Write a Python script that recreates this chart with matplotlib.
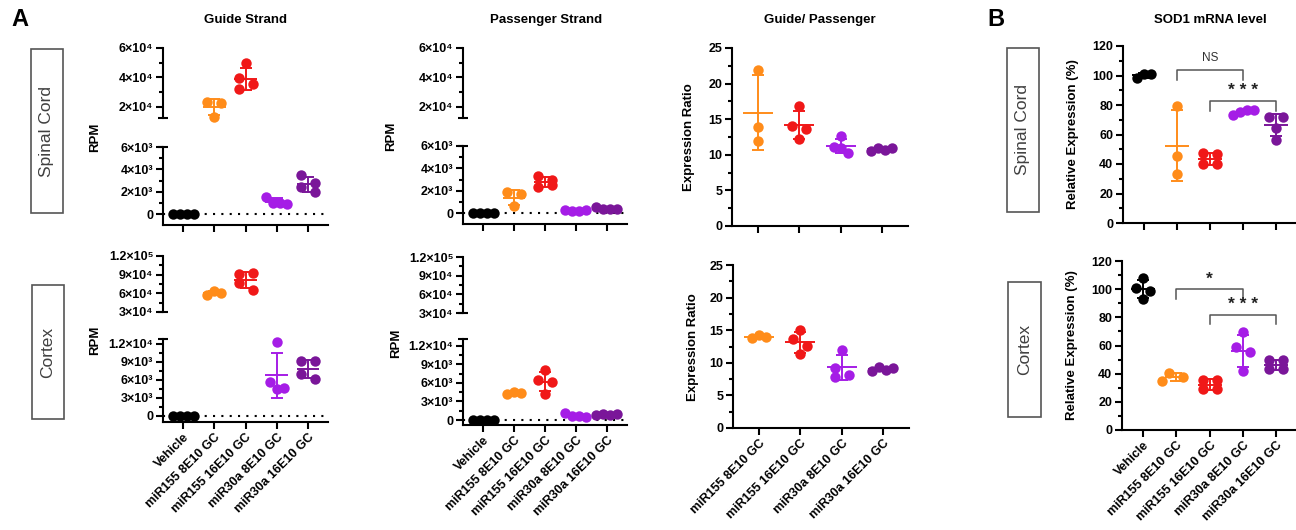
import numpy as np
import matplotlib
matplotlib.use('Agg')
import matplotlib.pyplot as plt
from matplotlib.patches import Rectangle

plt.rcParams['font.family'] = ['Liberation Sans', 'DejaVu Sans']

W, H = 1296, 530

groups = ['Vehicle', 'miR155 8E10 GC', 'miR155 16E10 GC', 'miR30a 8E10 GC', 'miR30a 16E10 GC']
colors = ['#000000', '#FF8C1A', '#F01818', '#A51DE6', '#7A1699']

# RPM values (guide / passenger strand), one list per group
guide_spinal = [[0, 0, 0, 0], [23400, 22700, 13500], [49500, 39500, 35500, 32000],
                [1550, 1050, 1000, 880], [3500, 2800, 2450, 1950]]
guide_cortex = [[0, 0, 0, 0], [58000, 64000, 61000], [91000, 93000, 76000, 66000],
                [12300, 5700, 4500, 4600], [9100, 9100, 7000, 6100]]
passenger_spinal = [[0, 0, 0, 0], [1900, 1700, 620], [3300, 3000, 2350, 2550],
                    [300, 250, 200, 280], [550, 400, 350, 420]]
passenger_cortex = [[0, 0, 0, 0], [4150, 4550, 4350], [8100, 6500, 6100, 4250],
                    [1100, 700, 600, 550], [800, 1000, 750, 900]]

# guide / passenger expression ratio (no vehicle)
ratio_spinal = [[21.9, 13.9, 12.0], [16.8, 14.1, 13.6, 12.2], [12.6, 11.1, 10.9, 10.2], [10.6, 11.0, 10.7, 11.0]]
ratio_cortex = [[13.8, 14.3, 14.0], [15.0, 13.6, 12.6, 11.3], [12.0, 9.2, 8.2, 7.8], [8.7, 9.3, 8.9, 9.2]]

# SOD1 mRNA relative expression (%)
sod1_spinal = [[98.2, 101.3, 101.0], [79, 45.5, 33], [47.5, 46.8, 40.3, 40.0],
               [73.5, 75.5, 76.5, 76.5], [72, 72, 64.5, 56.5]]
sod1_cortex = [[108, 101, 99, 93], [40.5, 37.5, 34.5], [35.8, 35.5, 29, 28.8],
               [69.5, 58.8, 55.5, 41.9], [49.5, 49.5, 43, 43]]

# comparisons: (group a, group b, bracket height, drop, label)
sod1_stats_spinal = [(1, 3, 104, 7, 'NS'), (2, 4, 83, 7, '* * *')]
sod1_stats_cortex = [(1, 3, 100, 7, '*'), (2, 4, 81.5, 6, '* * *')]

fig = plt.figure(figsize=(W / 100, H / 100), dpi=100)


def add_axes(l, t, r, b):
    return fig.add_axes([l / W, 1 - b / H, (r - l) / W, (b - t) / H])


def style(ax, xaxis=True):
    for s in ['top', 'right']:
        ax.spines[s].set_visible(False)
    ax.spines['left'].set_linewidth(1.5)
    ax.spines['bottom'].set_linewidth(1.5)
    ax.tick_params(axis='both', which='major', width=1.5, length=5, labelsize=9, pad=2)
    ax.tick_params(axis='y', which='minor', width=1.5, length=3)
    if not xaxis:
        ax.spines['bottom'].set_visible(False)
        ax.tick_params(axis='x', bottom=False, labelbottom=False)


def yticks(ax, major, labels, minor):
    ax.set_yticks(major, labels, fontweight='bold')
    ax.set_yticks(minor, minor=True)


def xticks(ax, n, labels=None):
    if labels is None:
        ax.set_xticks(range(n), [''] * n)
    else:
        ax.set_xticks(range(n), labels, rotation=45, ha='right', va='top',
                      rotation_mode='anchor', fontweight='bold', fontsize=9)


def cap(ax, where):
    ax.plot([-0.032, 0.032], [where, where], transform=ax.transAxes, color='k',
            lw=1.5, clip_on=False, solid_capstyle='butt')


def owner(axs, v):
    if len(axs) == 2 and v >= axs[0].get_ylim()[0]:
        return axs[0]
    return axs[-1]


def swarm(axs, x, vals, row_gap=8, dmin=9, step=7):
    # rows of nearly equal values are spread side by side, lone points dodge overlaps
    ypx = np.array([owner(axs, v).transData.transform((x, v))[1] for v in vals])
    a = axs[-1]
    ppu = a.transData.transform((1, 0))[0] - a.transData.transform((0, 0))[0]
    order = list(np.argsort(-ypx, kind='stable'))
    off = np.zeros(len(vals))
    placed = []
    i = 0
    while i < len(order):
        row = [order[i]]
        j = i + 1
        while j < len(order) and ypx[order[i]] - ypx[order[j]] < row_gap:
            row.append(order[j])
            j += 1
        row.sort()
        n = len(row)
        if n == 1:
            k = row[0]
            for c in [0, -step, step, -2 * step, 2 * step]:
                if all(np.hypot(c - px, ypx[k] - py) >= dmin for px, py in placed):
                    off[k] = c
                    break
            placed.append((off[k], ypx[k]))
        else:
            sp = 14 if n == 2 else step
            for m, k in enumerate(row):
                off[k] = (m - (n - 1) / 2) * sp
                placed.append((off[k], ypx[k]))
        i = j
    return off / ppu


def draw(axs, data, cols):
    for x, (vals, c) in enumerate(zip(data, cols)):
        vals = np.asarray(vals, float)
        m, sd = vals.mean(), vals.std(ddof=1)
        for ax in axs:
            ax.hlines(m, x - 0.36, x + 0.36, color=c, lw=1.4, zorder=4)
            ax.errorbar(x, m, yerr=sd, fmt='none', ecolor=c, elinewidth=1.4,
                        capsize=4.5, capthick=1.4, zorder=4)
        dx = swarm(axs, x, vals)
        for v, d in zip(vals, dx):
            owner(axs, v).plot(x + d, v, 'o', ms=7.5, color=c, mec='none',
                               clip_on=False, zorder=3)


def rpm_panel(box_up, box_lo, ylim_up, ylim_lo, data, spec_up, spec_lo, labels):
    up = add_axes(*box_up)
    lo = add_axes(*box_lo)
    for ax in (up, lo):
        ax.set_xlim(-0.65, 4.65)
    up.set_ylim(*ylim_up)
    lo.set_ylim(*ylim_lo)
    style(up, xaxis=False)
    style(lo)
    yticks(up, *spec_up)
    yticks(lo, *spec_lo)
    xticks(lo, 5, labels)
    cap(up, 0)
    cap(lo, 1)
    lo.axhline(0, color='k', lw=1.5, ls=(0, (1, 3)), zorder=1)
    draw([up, lo], data, colors)


spin_up = ([2e4, 4e4, 6e4], ['2×10⁴', '4×10⁴', '6×10⁴'], [3e4, 5e4])
spin_lo = ([0, 2e3, 4e3, 6e3], ['0', '2×10³', '4×10³', '6×10³'], [1e3, 3e3, 5e3])
cort_up = ([3e4, 6e4, 9e4, 1.2e5], ['3×10⁴', '6×10⁴', '9×10⁴', '1.2×10⁵'], [4.5e4, 7.5e4, 1.05e5])
cort_lo = ([0, 3e3, 6e3, 9e3, 1.2e4], ['0', '3×10³', '6×10³', '9×10³', '1.2×10⁴'],
           [1.5e3, 4.5e3, 7.5e3, 1.05e4])

# Guide strand
rpm_panel((163, 48, 328, 118), (163, 147, 328, 225), (12500, 60000), (-950, 6000),
          guide_spinal, spin_up, spin_lo, None)
rpm_panel((163, 256, 328, 312), (163, 339, 328, 422), (30000, 120000), (-1000, 12830),
          guide_cortex, cort_up, cort_lo, groups)
# Passenger strand
rpm_panel((463, 48, 627, 118), (463, 146, 627, 224), (12500, 60000), (-950, 6000),
          passenger_spinal, spin_up, spin_lo, None)
rpm_panel((463, 257, 627, 313), (463, 339, 627, 425), (30000, 120000), (-810, 13130),
          passenger_cortex, cort_up, cort_lo, groups)

# Guide / passenger ratio
for box, data, lab in [((732, 48, 908, 226), ratio_spinal, None),
                       ((733, 265, 909, 428), ratio_cortex, groups[1:])]:
    ax = add_axes(*box)
    ax.set_xlim(-0.63, 3.63)
    ax.set_ylim(0, 25)
    style(ax)
    yticks(ax, np.arange(0, 26, 5), [str(v) for v in range(0, 26, 5)], np.arange(2.5, 25, 5))
    xticks(ax, 4, lab)
    draw([ax], data, colors[1:])

# SOD1
for box, data, stats, lab in [((1123, 46, 1296, 223), sod1_spinal, sod1_stats_spinal, None),
                              ((1122, 261, 1296, 430), sod1_cortex, sod1_stats_cortex, groups)]:
    ax = add_axes(*box)
    ax.set_xlim(-0.64, 4.6)
    ax.set_ylim(0, 120)
    style(ax)
    yticks(ax, np.arange(0, 121, 20), [str(v) for v in range(0, 121, 20)], np.arange(10, 120, 20))
    xticks(ax, 5, lab)
    draw([ax], data, colors)
    for a, b, y, d, txt in stats:
        ax.plot([a, a, b, b], [y - d, y, y, y - d], color='#555555', lw=1.1, clip_on=False)
        if txt == 'NS':
            ax.text((a + b) / 2, y + 3.5, txt, ha='center', va='bottom', fontsize=8.5, color='#333333')
        else:
            ax.text((a + b) / 2, y + 2, txt, ha='center', va='bottom', fontsize=12.5,
                    fontweight='bold', color='#222222')

# y labels
for x, y, s in [(95, 137, 'RPM'), (95, 340, 'RPM'), (391, 136, 'RPM'), (396, 343, 'RPM'),
                (689, 137, 'Expression Ratio'), (693, 347, 'Expression Ratio'),
                (1073, 134, 'Relative Expression (%)'), (1072, 345, 'Relative Expression (%)')]:
    fig.text(x / W, 1 - y / H, s, rotation=90, ha='center', va='center',
             fontsize=9.5, fontweight='bold')

# titles
for x, s in [(245, 'Guide Strand'), (546, 'Passenger Strand'), (820, 'Guide/ Passenger'),
             (1210, 'SOD1 mRNA level')]:
    fig.text(x / W, 1 - 20 / H, s, ha='center', va='center', fontsize=9.5, fontweight='bold')

fig.text(19.5 / W, 1 - 20 / H, 'A', ha='center', va='center', fontsize=17, fontweight='bold')
fig.text(996 / W, 1 - 20 / H, 'B', ha='center', va='center', fontsize=17, fontweight='bold')

# tissue boxes
for l, t, r, b, s in [(31, 49, 63, 213, 'Spinal Cord'), (32, 285, 64, 419, 'Cortex'),
                      (1007, 48, 1039, 212, 'Spinal Cord'), (1008, 282, 1041, 417, 'Cortex')]:
    fig.add_artist(Rectangle((l / W, 1 - b / H), (r - l) / W, (b - t) / H,
                             transform=fig.transFigure, fill=False, ec='#555555', lw=1.2))
    fig.text((l + r) / 2 / W, 1 - (t + b) / 2 / H, s, rotation=90, ha='center', va='center',
             fontsize=12.5, color='#404040')

fig.savefig('out.png', dpi=100)
